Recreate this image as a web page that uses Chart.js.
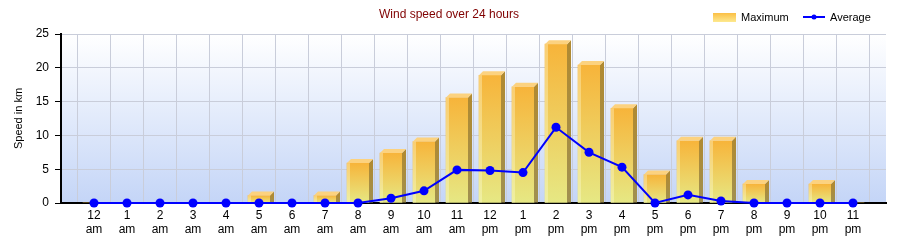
<!DOCTYPE html>
<html>
<head>
<meta charset="utf-8">
<script src="https://cdn.jsdelivr.net/npm/chart.js@4"></script>
<style>
  html, body { margin: 0; padding: 0; background: #fff; }
  #wrap { width: 900px; height: 240px; }
</style>
</head>
<body>
<div id="wrap"><canvas id="windChart" width="900" height="240"></canvas></div>
<script>
const chartTitle = "Wind speed over 24 hours";
const yAxisTitle = "Speed in km";
const seriesNames = ["Maximum", "Average"];

const hourLabels = ["12", "1", "2", "3", "4", "5", "6", "7", "8", "9", "10", "11",
                    "12", "1", "2", "3", "4", "5", "6", "7", "8", "9", "10", "11"];
const periodLabels = ["am", "am", "am", "am", "am", "am", "am", "am", "am", "am", "am", "am",
                      "pm", "pm", "pm", "pm", "pm", "pm", "pm", "pm", "pm", "pm", "pm", "pm"];

const maxSpeed = [0, 0, 0, 0, 0, 1.1, 0, 1.1, 5.9, 7.4, 9.1, 15.6,
                  18.9, 17.2, 23.5, 20.4, 14.0, 4.2, 9.2, 9.2, 2.8, 0, 2.8, 0];
const avgSpeed = [0, 0, 0, 0, 0, 0, 0, 0, 0, 0.7, 1.8, 4.9,
                  4.8, 4.5, 11.2, 7.5, 5.3, 0, 1.2, 0.3, 0, 0, 0, 0];

const yTicks = [0, 5, 10, 15, 20, 25];

const FONT = "'Liberation Sans', Arial, sans-serif";
const DEPTH = 4;

// plot background + title + legend
const decorPlugin = {
  id: "decor",
  beforeDraw(chart) {
    const { ctx, chartArea: a } = chart;
    const g = ctx.createLinearGradient(0, a.top, 0, a.bottom);
    g.addColorStop(0, "#ffffff");
    g.addColorStop(1, "#c4d5f7");
    ctx.save();
    ctx.fillStyle = g;
    ctx.fillRect(a.left, a.top, a.right - a.left, a.bottom - a.top);
    ctx.restore();
  },
  afterDraw(chart) {
    const ctx = chart.ctx;
    ctx.save();
    ctx.textBaseline = "middle";
    ctx.font = "12px " + FONT;
    ctx.fillStyle = "#800000";
    ctx.textAlign = "center";
    ctx.fillText(chartTitle, 449, 15);

    // legend
    ctx.font = "11px " + FONT;
    ctx.textAlign = "left";
    const lg = ctx.createLinearGradient(0, 13, 0, 22);
    lg.addColorStop(0, "#fbbf45");
    lg.addColorStop(1, "#fde98f");
    ctx.fillStyle = lg;
    ctx.fillRect(713, 13, 23, 9);
    ctx.fillStyle = "#000";
    ctx.fillText(seriesNames[0], 741, 18);
    ctx.strokeStyle = "#0000ff";
    ctx.lineWidth = 2;
    ctx.beginPath();
    ctx.moveTo(803, 17);
    ctx.lineTo(825, 17);
    ctx.stroke();
    ctx.fillStyle = "#0000ff";
    ctx.beginPath();
    ctx.arc(814, 17, 2.5, 0, Math.PI * 2);
    ctx.fill();
    ctx.fillStyle = "#000";
    ctx.fillText(seriesNames[1], 830, 18);
    ctx.restore();
  },
  // 3D top and side faces for the bars
  afterDatasetDraw(chart, args) {
    if (args.index !== 0) return;
    const ctx = chart.ctx;
    const meta = chart.getDatasetMeta(0);
    ctx.save();
    meta.data.forEach((bar, i) => {
      if (!maxSpeed[i]) return;
      const { x, y, base, width } = bar.getProps(["x", "y", "base", "width"], true);
      const l = x - width / 2, r = x + width / 2;
      // side
      const sg = ctx.createLinearGradient(0, y, 0, base);
      sg.addColorStop(0, "#b08a32");
      sg.addColorStop(1, "#a09050");
      ctx.fillStyle = sg;
      ctx.beginPath();
      ctx.moveTo(r, y);
      ctx.lineTo(r + DEPTH, y - DEPTH);
      ctx.lineTo(r + DEPTH, base);
      ctx.lineTo(r, base);
      ctx.closePath();
      ctx.fill();
      // top
      ctx.fillStyle = "#fcd27f";
      ctx.beginPath();
      ctx.moveTo(l, y);
      ctx.lineTo(l + DEPTH, y - DEPTH);
      ctx.lineTo(r + DEPTH, y - DEPTH);
      ctx.lineTo(r, y);
      ctx.closePath();
      ctx.fill();
      // lighter left strip
      ctx.fillStyle = "rgba(255,255,220,0.35)";
      ctx.fillRect(l, y, 3, base - y);
    });
    ctx.restore();
  }
};

function barFill(context) {
  const chart = context.chart;
  if (!chart.chartArea) return "#f2c24a";
  const v = maxSpeed[context.dataIndex] || 0;
  const top = chart.scales.y.getPixelForValue(v);
  const base = chart.scales.y.getPixelForValue(0);
  if (base - top < 1) return "#f2c24a";
  const g = chart.ctx.createLinearGradient(0, top, 0, base);
  g.addColorStop(0, "#f7b43a");
  g.addColorStop(1, "#e6e884");
  return g;
}

const ctx = document.getElementById("windChart").getContext("2d");

new Chart(ctx, {
  type: "bar",
  data: {
    datasets: [
      {
        type: "bar",
        label: seriesNames[0],
        data: maxSpeed.map((v, i) => ({ x: i, y: v })),
        backgroundColor: barFill,
        borderWidth: 0,
        barThickness: 22,
        order: 1
      },
      {
        type: "line",
        label: seriesNames[1],
        data: avgSpeed.map((v, i) => ({ x: i, y: v })),
        borderColor: "#0000ff",
        backgroundColor: "#0000ff",
        borderWidth: 2,
        pointRadius: 4.5,
        pointBackgroundColor: "#0000ff",
        pointBorderWidth: 0,
        tension: 0,
        clip: false,
        order: 0
      }
    ]
  },
  options: {
    responsive: false,
    animation: false,
    layout: { padding: { left: 0, right: 14, top: 34, bottom: 0 } },
    plugins: {
      legend: { display: false },
      title: { display: false },
      tooltip: { enabled: false }
    },
    scales: {
      x: {
        type: "linear",
        min: -1,
        max: 24,
        offset: false,
        afterFit(scale) { scale.height = 37; },
        afterBuildTicks(scale) {
          const t = [];
          for (let i = -1; i <= 24; i++) t.push({ value: i });
          scale.ticks = t;
        },
        ticks: {
          autoSkip: false,
          maxRotation: 0,
          padding: 5,
          color: "#000",
          font: { family: FONT, size: 12 },
          callback: (v) => (v >= 0 && v < hourLabels.length) ? [hourLabels[v], periodLabels[v]] : ""
        },
        grid: { color: "#c9cdda", drawTicks: false },
        border: { display: true, color: "#000", width: 2 }
      },
      y: {
        min: 0,
        max: 25,
        afterFit(scale) { scale.width = 61; },
        afterBuildTicks(scale) { scale.ticks = yTicks.map(v => ({ value: v })); },
        ticks: {
          padding: 6,
          color: "#000",
          font: { family: FONT, size: 12 }
        },
        grid: { color: "#c9cdda", tickLength: 6, tickColor: "#000" },
        border: { display: true, color: "#000", width: 2 },
        title: {
          display: true,
          text: yAxisTitle,
          color: "#000",
          font: { family: FONT, size: 11 },
          padding: { top: 12, bottom: 0 }
        }
      }
    }
  },
  plugins: [decorPlugin]
});
</script>
</body>
</html>
